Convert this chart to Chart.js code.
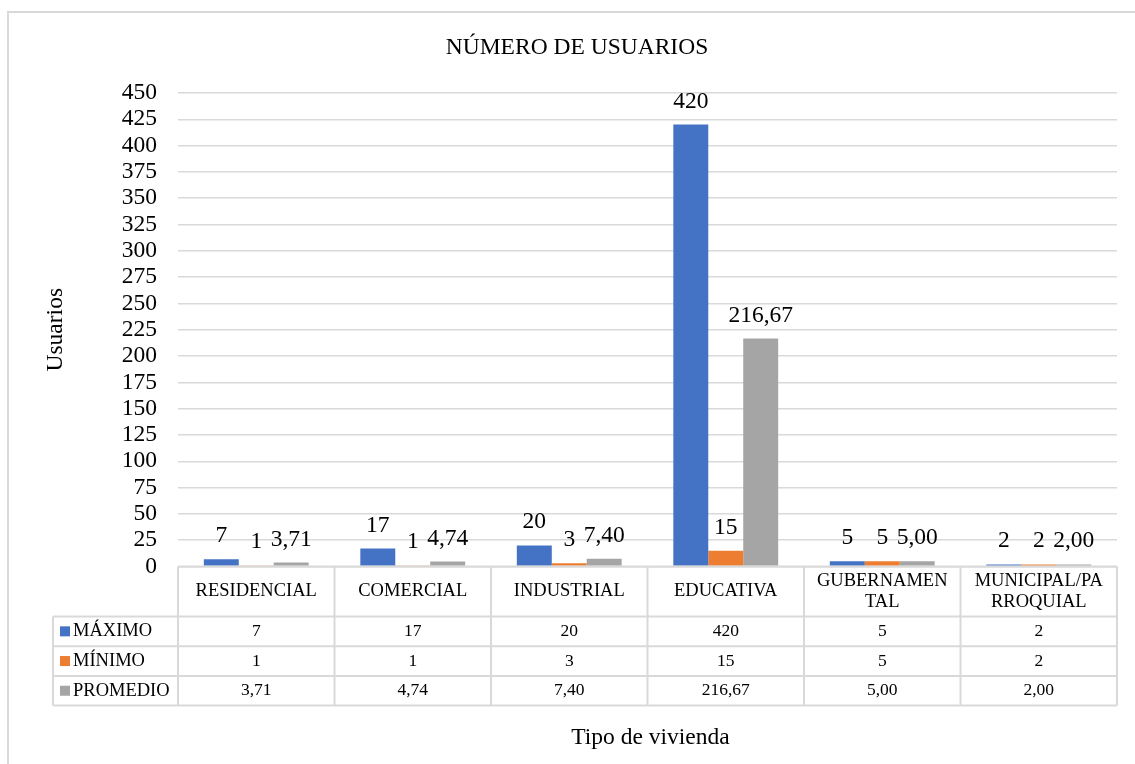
<!DOCTYPE html>
<html>
<head>
<meta charset="utf-8">
<title>Número de usuarios</title>
<script src="https://cdn.jsdelivr.net/npm/chart.js@4.4.0/dist/chart.umd.min.js"></script>
<style>
    body { margin: 0; background: #fff; }
</style>
</head>
<body>
<canvas id="usuariosChart" width="1135" height="764"></canvas>
<script>
// Data
const categories = ['RESIDENCIAL', 'COMERCIAL', 'INDUSTRIAL', 'EDUCATIVA', 'GUBERNAMENTAL', 'MUNICIPAL/PARROQUIAL'];
const maximo = [7, 17, 20, 420, 5, 2];
const minimo = [1, 1, 3, 15, 5, 2];
const promedio = [3.71, 4.74, 7.40, 216.67, 5.00, 2.00];
const seriesNames = ['MÁXIMO', 'MÍNIMO', 'PROMEDIO'];
const seriesDecimals = [0, 0, 2];
const yTicks = [0, 25, 50, 75, 100, 125, 150, 175, 200, 225, 250, 275, 300, 325, 350, 375, 400, 425, 450];

const FONT = "'Liberation Serif', 'Times New Roman', serif";
const colors = ['#4472C4', '#ED7D31', '#A5A5A5'];
const lineColor = '#d9d9d9';

function fmt(v, decimals) {
    return v.toFixed(decimals).replace('.', ',');
}

// break a label by characters when it does not fit the cell
function wrapChars(ctx, text, maxWidth) {
    const lines = [];
    let line = '';
    for (const ch of text) {
        if (line && ctx.measureText(line + ch).width > maxWidth) {
            lines.push(line);
            line = ch;
        } else {
            line += ch;
        }
    }
    lines.push(line);
    return lines;
}

const tablePlugin = {
    id: 'dataTable',
    afterDatasetsDraw(chart) {
        const ctx = chart.ctx;
        ctx.save();
        ctx.font = '23.5px ' + FONT;
        ctx.fillStyle = '#000';
        ctx.textAlign = 'center';
        ctx.textBaseline = 'alphabetic';
        chart.data.datasets.forEach((ds, i) => {
            chart.getDatasetMeta(i).data.forEach((bar, j) => {
                ctx.fillText(fmt(ds.data[j], seriesDecimals[i]), bar.x, bar.y - 17);
            });
        });
        ctx.restore();
    },
    afterDraw(chart) {
        const ctx = chart.ctx;
        const area = chart.chartArea;
        const xScale = chart.scales.x;
        const n = categories.length;
        const colW = (area.right - area.left) / n;
        const top = area.bottom;
        const headerH = 50;
        const rowH = 29.7;
        const legendLeft = 53;
        const rowsTop = top + headerH;
        const bottom = rowsTop + rowH * chart.data.datasets.length;

        ctx.save();

        // outer chart border
        ctx.strokeStyle = lineColor;
        ctx.lineWidth = 2;
        ctx.beginPath();
        ctx.moveTo(8, 764);
        ctx.lineTo(8, 12);
        ctx.lineTo(1135, 12);
        ctx.stroke();

        // title
        ctx.fillStyle = '#000';
        ctx.textAlign = 'center';
        ctx.textBaseline = 'alphabetic';
        ctx.font = '23.5px ' + FONT;
        ctx.fillText('NÚMERO DE USUARIOS', 577, 54);

        // x axis title
        ctx.fillText('Tipo de vivienda', (area.left + area.right) / 2 + 3, 744);

        // table grid
        ctx.strokeStyle = lineColor;
        ctx.lineWidth = 2;
        ctx.beginPath();
        ctx.moveTo(area.left, top);
        ctx.lineTo(area.right, top);
        for (let r = 0; r <= chart.data.datasets.length; r++) {
            ctx.moveTo(legendLeft, rowsTop + r * rowH);
            ctx.lineTo(area.right, rowsTop + r * rowH);
        }
        ctx.moveTo(legendLeft, rowsTop);
        ctx.lineTo(legendLeft, bottom);
        for (let c = 0; c <= n; c++) {
            const x = area.left + c * colW;
            ctx.moveTo(x, top);
            ctx.lineTo(x, bottom);
        }
        ctx.stroke();

        // header labels
        ctx.font = '18.5px ' + FONT;
        ctx.textBaseline = 'middle';
        categories.forEach((cat, j) => {
            const cx = xScale.getPixelForTick(j);
            const lines = wrapChars(ctx, cat, colW - 20);
            const lh = 21;
            const y0 = top + headerH / 2 - (lines.length - 1) * lh / 2;
            lines.forEach((ln, k) => ctx.fillText(ln, cx, y0 + k * lh));
        });

        // rows: legend key, series name, values
        chart.data.datasets.forEach((ds, i) => {
            const cy = rowsTop + i * rowH + rowH / 2;
            ctx.fillStyle = ds.backgroundColor;
            ctx.fillRect(60, cy - 5, 10, 10);
            ctx.fillStyle = '#000';
            ctx.font = '18.5px ' + FONT;
            ctx.textAlign = 'left';
            ctx.fillText(seriesNames[i], 73, cy);
            ctx.font = '17.5px ' + FONT;
            ctx.textAlign = 'center';
            ds.data.forEach((v, j) => {
                ctx.fillText(fmt(v, seriesDecimals[i]), xScale.getPixelForTick(j), cy);
            });
        });

        ctx.restore();
    }
};

document.addEventListener('DOMContentLoaded', function () {
    const ctx = document.getElementById('usuariosChart').getContext('2d');

    new Chart(ctx, {
        type: 'bar',
        data: {
            labels: categories,
            datasets: [
                { label: seriesNames[0], data: maximo, backgroundColor: colors[0] },
                { label: seriesNames[1], data: minimo, backgroundColor: colors[1] },
                { label: seriesNames[2], data: promedio, backgroundColor: colors[2] }
            ]
        },
        options: {
            responsive: false,
            animation: false,
            devicePixelRatio: 1,
            layout: {
                padding: { left: 8, top: 93, right: 18, bottom: 197.5 }
            },
            datasets: {
                bar: {
                    categoryPercentage: 0.67,
                    barPercentage: 1,
                    borderWidth: 0
                }
            },
            scales: {
                x: {
                    display: false
                },
                y: {
                    min: 0,
                    max: 450,
                    afterBuildTicks: function (scale) {
                        scale.ticks = yTicks.map(v => ({ value: v }));
                    },
                    afterFit: function (scale) {
                        scale.width = 170;
                    },
                    ticks: {
                        autoSkip: false,
                        padding: 21,
                        color: '#000',
                        font: { family: FONT, size: 23.5 }
                    },
                    grid: {
                        color: lineColor,
                        lineWidth: 1.5,
                        drawTicks: false
                    },
                    border: {
                        display: false
                    },
                    title: {
                        display: true,
                        text: 'Usuarios',
                        color: '#000',
                        font: { family: FONT, size: 23.5 },
                        padding: { top: 34, bottom: 0 }
                    }
                }
            },
            plugins: {
                legend: { display: false },
                tooltip: { enabled: false }
            }
        },
        plugins: [tablePlugin]
    });
});
</script>
</body>
</html>
